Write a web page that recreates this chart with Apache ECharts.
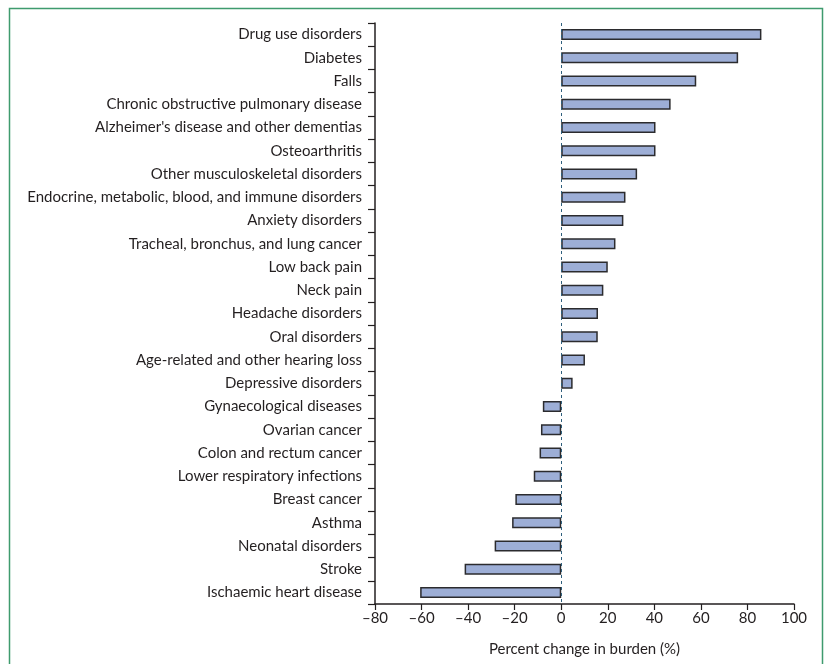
<!DOCTYPE html>
<html>
<head>
<meta charset="utf-8">
<script src="https://cdn.jsdelivr.net/npm/echarts@6/dist/echarts.min.js"></script>
<style>
  html, body { margin: 0; padding: 0; background: #fff; }
  #chart { width: 827px; height: 664px; }
</style>
</head>
<body>
<div id="chart"></div>
<script>
// Causes, top to bottom
const causes = [
  'Drug use disorders',
  'Diabetes',
  'Falls',
  'Chronic obstructive pulmonary disease',
  "Alzheimer's disease and other dementias",
  'Osteoarthritis',
  'Other musculoskeletal disorders',
  'Endocrine, metabolic, blood, and immune disorders',
  'Anxiety disorders',
  'Tracheal, bronchus, and lung cancer',
  'Low back pain',
  'Neck pain',
  'Headache disorders',
  'Oral disorders',
  'Age-related and other hearing loss',
  'Depressive disorders',
  'Gynaecological diseases',
  'Ovarian cancer',
  'Colon and rectum cancer',
  'Lower respiratory infections',
  'Breast cancer',
  'Asthma',
  'Neonatal disorders',
  'Stroke',
  'Ischaemic heart disease'
];

// Percent change in burden (%)
const percentChange = [
  86, 76, 58, 47, 40.5, 40.5, 32.6, 27.6, 26.7, 23.3,
  20, 18.1, 15.8, 15.7, 10.2, 4.9, -7.9, -8.7, -9.3, -11.8,
  -19.7, -21.1, -28.6, -41.5, -60.6
];

// X-axis range and step
const xMin = -80;
const xMax = 100;
const xStep = 20;

const textColor = '#231f20';
const fontFamily = 'Lato, "Noto Sans", sans-serif';

const chart = echarts.init(document.getElementById('chart'), null, { renderer: 'canvas' });

chart.setOption({
  backgroundColor: '#ffffff',
  animation: false,
  graphic: [{
    type: 'rect',
    shape: { x: 9.5, y: 8.5, width: 813, height: 700 },
    style: { fill: 'none', stroke: '#3f9b6e', lineWidth: 1.5 },
    silent: true,
    z: 0
  }],
  grid: { left: 375, right: 33, top: 23, bottom: 60, containLabel: false },
  xAxis: {
    type: 'value',
    min: xMin,
    max: xMax,
    interval: xStep,
    name: 'Percent change in burden (%)',
    nameLocation: 'middle',
    nameGap: 38,
    nameTextStyle: { color: textColor, fontSize: 15, fontFamily: fontFamily },
    axisLine: { show: true, onZero: false, lineStyle: { color: '#231f20', width: 1.5 } },
    axisTick: { show: true, length: 6, lineStyle: { color: '#231f20', width: 1.2 } },
    axisLabel: {
      color: textColor,
      fontSize: 15,
      fontFamily: fontFamily,
      margin: 7,
      formatter: v => (v < 0 ? '\u2013' + Math.abs(v) : String(v))
    },
    splitLine: { show: false }
  },
  yAxis: {
    type: 'category',
    data: causes,
    inverse: true,
    axisLine: { show: true, onZero: false, lineStyle: { color: '#231f20', width: 1.5 } },
    axisTick: { show: true, length: 7, interval: 0, alignWithLabel: false, lineStyle: { color: '#231f20', width: 1.2 } },
    axisLabel: {
      color: textColor,
      fontSize: 15,
      fontFamily: fontFamily,
      margin: 13,
      interval: 0
    },
    splitLine: { show: false }
  },
  series: [{
    type: 'bar',
    data: percentChange,
    barWidth: 11,
    itemStyle: {
      color: '#9daed6',
      borderColor: '#2b2b2e',
      borderWidth: 1.5
    },
    markLine: {
      silent: true,
      symbol: 'none',
      label: { show: false },
      lineStyle: { color: '#2e5f7d', type: [3, 3], width: 1 },
      data: [{ xAxis: 0 }]
    }
  }]
});
</script>
</body>
</html>
